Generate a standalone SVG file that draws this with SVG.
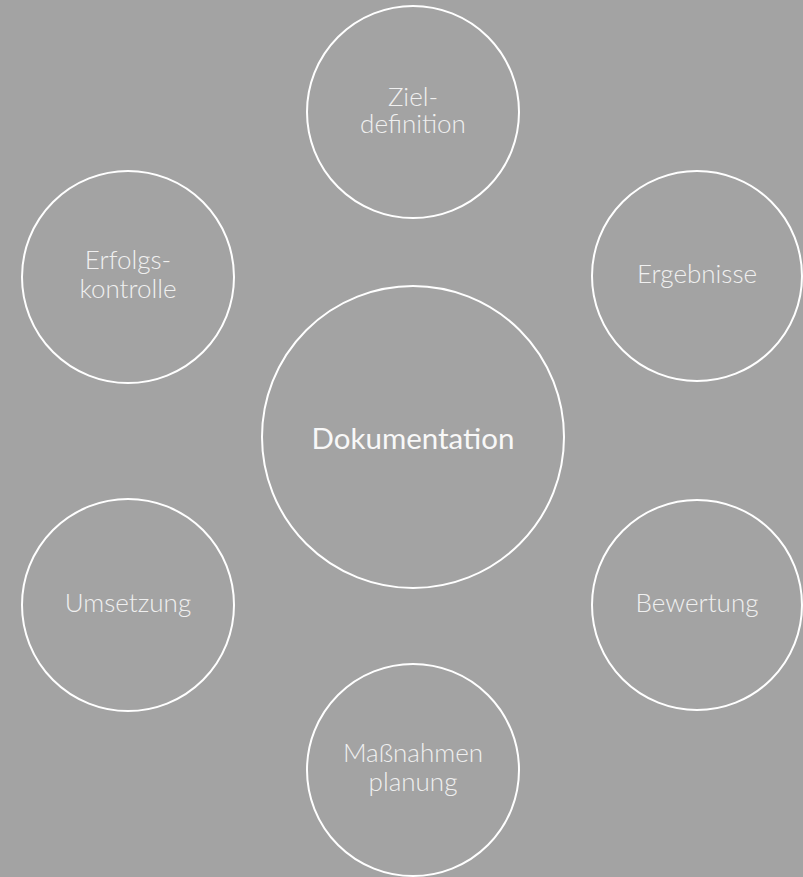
<svg xmlns="http://www.w3.org/2000/svg" width="803" height="877" viewBox="0 0 803 877">
  <style>
    .c { fill: none; stroke: #ffffff; stroke-width: 2; }
    .t { font-family: Lato, "Open Sans", "Liberation Sans", sans-serif; font-weight: 300; font-size: 26px; fill: #f0f0f0; text-anchor: middle; }
    .main { font-family: Lato, "Open Sans", "Liberation Sans", sans-serif; font-weight: 400; font-size: 29.5px; fill: #f8f8f8; text-anchor: middle; }
  </style>
  <rect x="0" y="0" width="803" height="877" fill="#a3a3a3"/>
  <g id="connectors"></g>
  <g id="zieldefinition">
    <circle class="c" cx="413" cy="112" r="106"/>
    <text class="t" x="413" y="106">Ziel-</text>
    <text class="t" x="413" y="133">definition</text>
  </g>
  <g id="ergebnisse">
    <circle class="c" cx="697" cy="276" r="105"/>
    <text class="t" x="697" y="283">Ergebnisse</text>
  </g>
  <g id="bewertung">
    <circle class="c" cx="697" cy="605" r="105"/>
    <text class="t" x="697" y="612">Bewertung</text>
  </g>
  <g id="massnahmenplanung">
    <circle class="c" cx="413" cy="770" r="106"/>
    <text class="t" x="413" y="762">Maßnahmen</text>
    <text class="t" x="413" y="791">planung</text>
  </g>
  <g id="umsetzung">
    <circle class="c" cx="128" cy="605" r="106"/>
    <text class="t" x="128" y="612">Umsetzung</text>
  </g>
  <g id="erfolgskontrolle">
    <circle class="c" cx="128" cy="277" r="106"/>
    <text class="t" x="128" y="269">Erfolgs-</text>
    <text class="t" x="128" y="298">kontrolle</text>
  </g>
  <g id="dokumentation">
    <circle class="c" cx="413" cy="437" r="151"/>
    <text class="main" x="413" y="449">Dokumentation</text>
  </g>
</svg>
